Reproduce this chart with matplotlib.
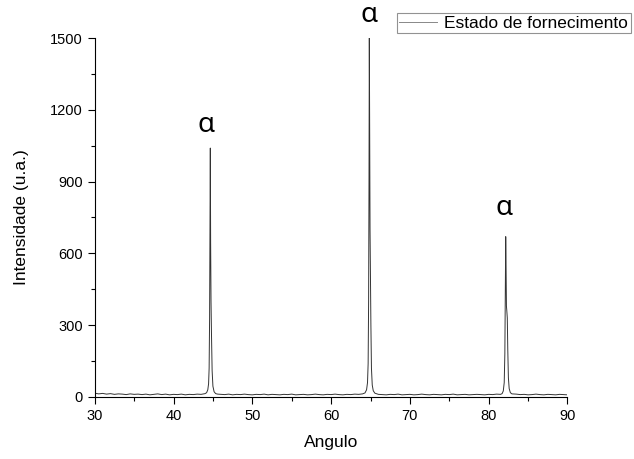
import matplotlib
matplotlib.use('Agg')
import matplotlib.pyplot as plt
from matplotlib.ticker import MultipleLocator

plt.rcParams['font.family'] = ['Liberation Sans', 'DejaVu Sans']

# difratograma (2theta, intensidade)
angulo = [
    30.0, 30.5, 31.0, 31.5, 32.0, 32.5, 33.0, 33.5, 34.0, 34.5, 35.0, 35.5, 36.0, 36.5, 37.0,
    37.5, 38.0, 38.5, 39.0, 39.5, 40.0, 40.5, 41.0, 41.5, 42.0, 42.5, 43.0, 43.5, 44.0,
    44.2, 44.35, 44.45, 44.52, 44.58, 44.63, 44.67, 44.71, 44.76, 44.82, 44.9, 45.0, 45.15, 45.35, 45.6,
    46.0, 46.5, 47.0, 47.5, 48.0, 48.5, 49.0, 49.5, 50.0, 50.5, 51.0, 51.5, 52.0, 52.5, 53.0,
    53.5, 54.0, 54.5, 55.0, 55.5, 56.0, 56.5, 57.0, 57.5, 58.0, 58.5, 59.0, 59.5, 60.0, 60.5,
    61.0, 61.5, 62.0, 62.5, 63.0, 63.5, 64.0,
    64.3, 64.5, 64.62, 64.7, 64.76, 64.81, 64.85, 64.89, 64.94, 64.99, 65.05, 65.12, 65.22, 65.35, 65.55, 65.8,
    66.0, 66.5, 67.0, 67.5, 68.0, 68.5, 69.0, 69.5, 70.0, 70.5, 71.0, 71.5, 72.0, 72.5, 73.0,
    73.5, 74.0, 74.5, 75.0, 75.5, 76.0, 76.5, 77.0, 77.5, 78.0, 78.5, 79.0, 79.5, 80.0, 80.5,
    81.0, 81.5,
    81.7, 81.85, 81.97, 82.05, 82.11, 82.16, 82.2, 82.25, 82.3, 82.36, 82.42, 82.5, 82.6, 82.75, 82.95,
    83.5, 84.0, 84.5, 85.0, 85.5, 86.0, 86.5, 87.0, 87.5, 88.0, 88.5, 89.0, 89.5, 90.0,
]
intensidade = [
    16, 13, 15, 12, 14, 11, 13, 12, 10, 13, 11, 12, 10, 12, 9,
    11, 13, 10, 12, 9, 11, 10, 12, 9, 11, 10, 12, 11, 14,
    18, 30, 55, 120, 330, 700, 1040, 650, 400, 260, 110, 45, 22, 14, 12,
    11, 10, 12, 9, 11, 10, 12, 10, 9, 11, 10, 12, 9, 11, 10,
    9, 11, 10, 12, 9, 10, 11, 9, 10, 12, 10, 9, 11, 10, 12,
    10, 9, 11, 10, 12, 11, 13,
    17, 30, 60, 140, 400, 900, 1500, 1150, 700, 520, 300, 120, 50, 26, 16, 13,
    11, 10, 9, 11, 10, 12, 9, 10, 11, 9, 10, 12, 10, 9, 11,
    10, 9, 11, 10, 12, 9, 10, 11, 9, 10, 11, 10, 9, 11, 10,
    12, 11,
    14, 25, 60, 180, 450, 670, 560, 380, 360, 330, 200, 80, 35, 18, 13,
    12, 10, 11, 9, 10, 12, 10, 9, 11, 10, 9, 11, 10, 9,
]

# rótulos das fases: (x, y)
rotulo_x = [44.1, 64.8, 81.9]
rotulo_y = [1135, 1595, 790]

fig = plt.figure(figsize=(6.34, 4.59), dpi=100)
ax = fig.add_axes([0.1494, 0.1351, 0.7457, 0.7821])

ax.plot(angulo, intensidade, color='#333333', lw=0.7, label='Estado de fornecimento')

for x, y in zip(rotulo_x, rotulo_y):
    ax.text(x, y, 'α', fontsize=20, family=['Noto Sans', 'DejaVu Sans'],
            ha='center', va='center', clip_on=False)

ax.set_xlim(30, 90)
ax.set_ylim(0, 1500)
ax.xaxis.set_major_locator(MultipleLocator(10))
ax.xaxis.set_minor_locator(MultipleLocator(5))
ax.yaxis.set_major_locator(MultipleLocator(300))
ax.yaxis.set_minor_locator(MultipleLocator(150))
ax.tick_params(which='major', direction='out', length=5, width=0.8, labelsize=10.5)
ax.tick_params(which='minor', direction='out', length=3, width=0.8)
ax.spines['top'].set_visible(False)
ax.spines['right'].set_visible(False)

ax.set_xlabel('Angulo', fontsize=12.5, labelpad=9)
ax.set_ylabel('Intensidade (u.a.)', fontsize=12.5, labelpad=15)

leg = ax.legend(loc='upper right', bbox_to_anchor=(0.995, 0.972), bbox_transform=fig.transFigure,
                fontsize=12.5, frameon=True, fancybox=False, borderpad=0.15, handlelength=2.2,
                handletextpad=0.4, borderaxespad=0)
leg.get_frame().set_edgecolor('#777777')
leg.get_frame().set_linewidth(0.8)
leg.get_lines()[0].set_color('#888888')

plt.savefig('out.png', dpi=100)
